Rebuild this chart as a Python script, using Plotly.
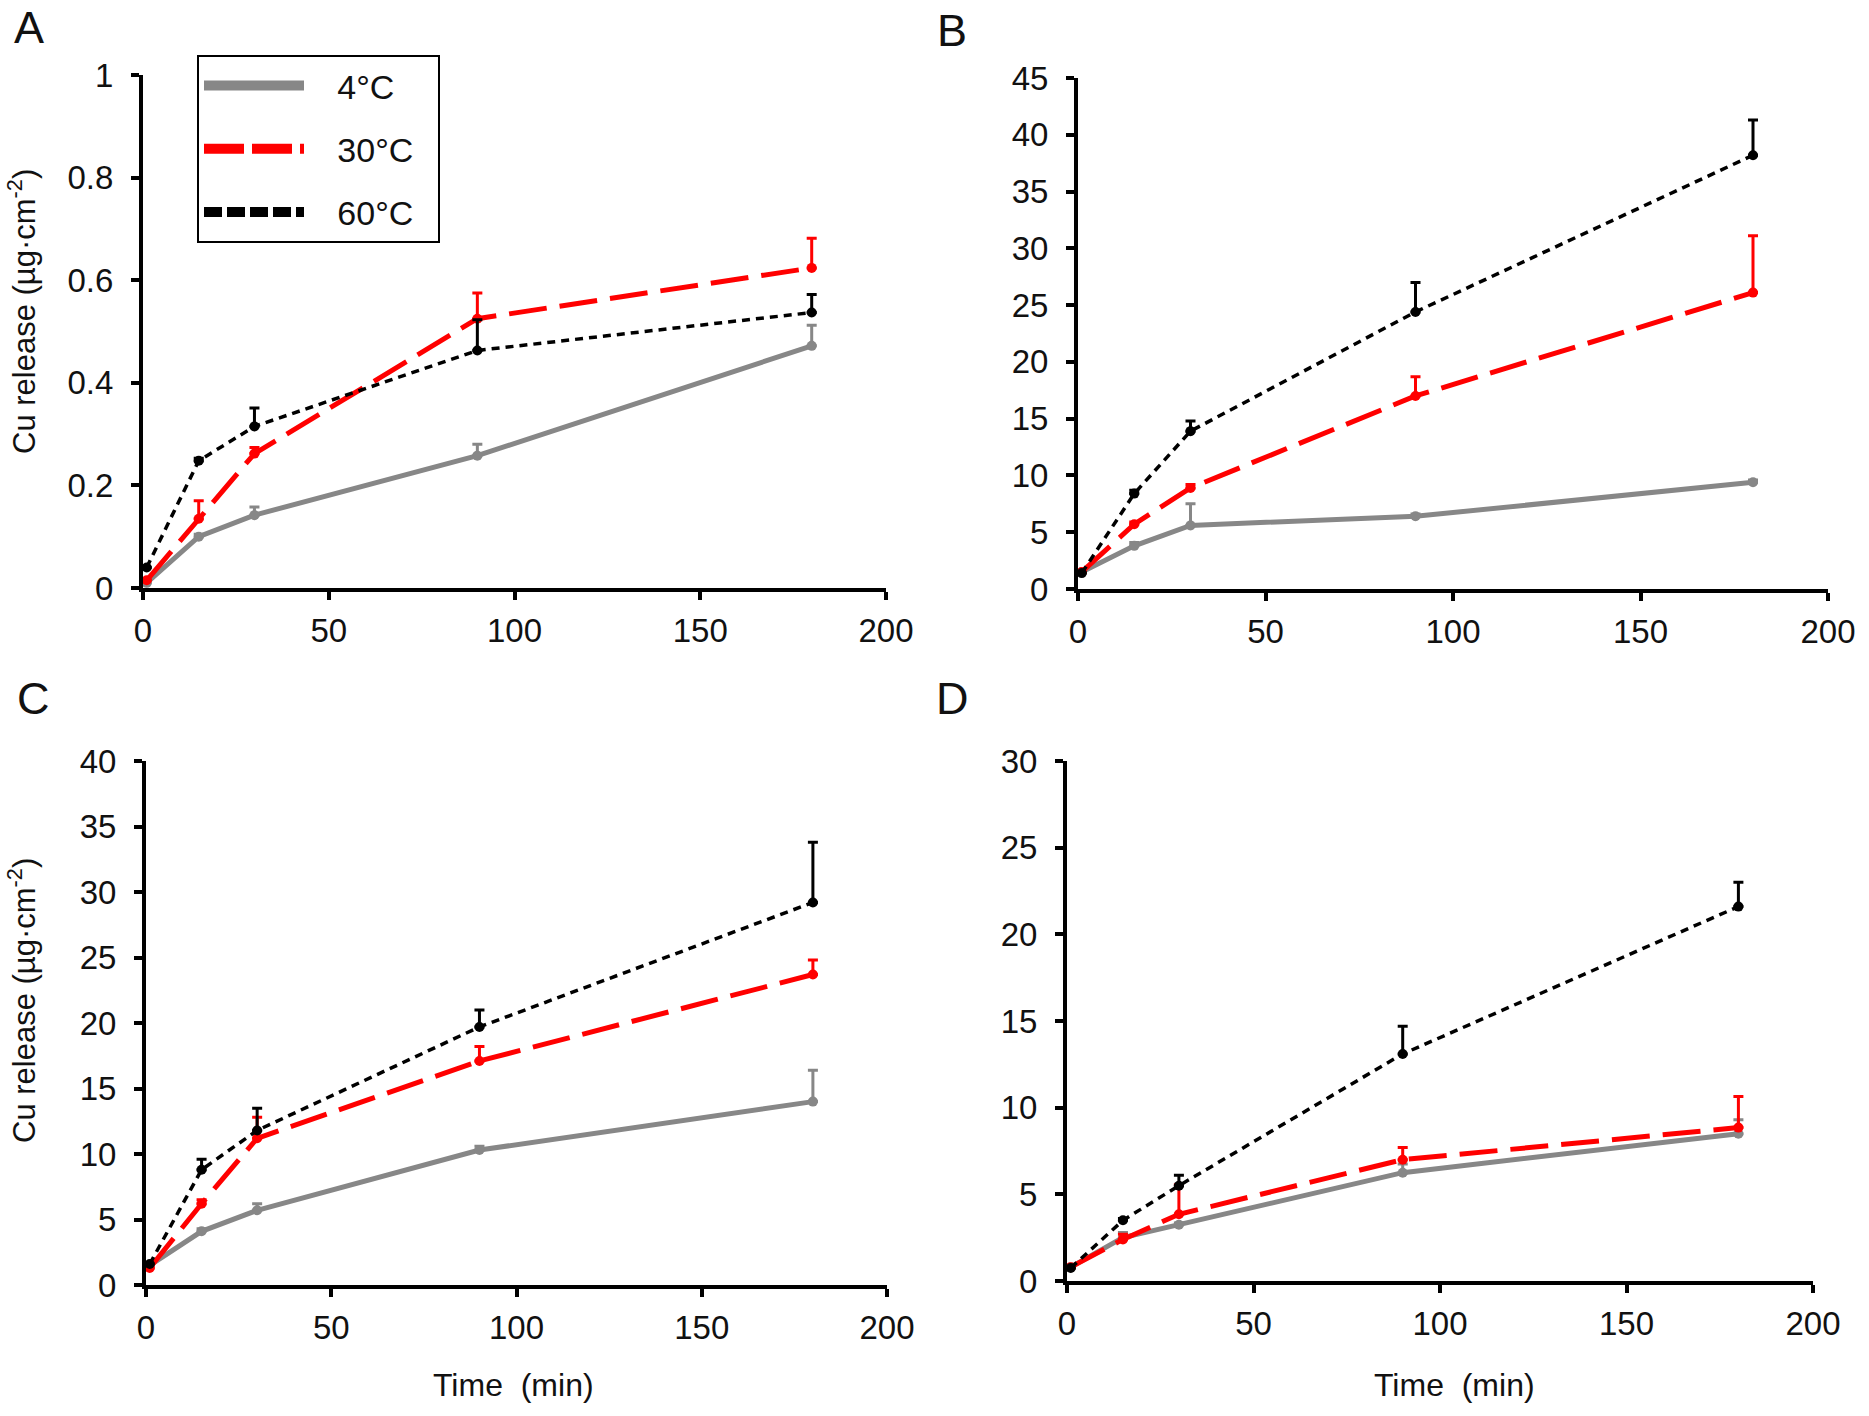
import plotly.graph_objects as go

W, H = 1869, 1416

time_min = [1, 15, 30, 90, 180]
series_names = ["4°C", "30°C", "60°C"]

# Panel A
A_4 = [0.01, 0.10, 0.142, 0.258, 0.472]
A_4_err = [0.0, 0.005, 0.016, 0.022, 0.04]
A_30 = [0.015, 0.135, 0.262, 0.525, 0.624]
A_30_err = [0.0, 0.035, 0.012, 0.05, 0.058]
A_60 = [0.04, 0.248, 0.315, 0.463, 0.537]
A_60_err = [0.0, 0.005, 0.036, 0.06, 0.035]

# Panel B
B_4 = [1.5, 3.8, 5.6, 6.4, 9.4]
B_4_err = [0.0, 0.3, 1.9, 0.2, 0.2]
B_30 = [1.5, 5.7, 8.9, 17.0, 26.1]
B_30_err = [0.0, 0.2, 0.3, 1.7, 5.0]
B_60 = [1.4, 8.4, 13.9, 24.4, 38.2]
B_60_err = [0.0, 0.3, 0.9, 2.6, 3.1]

# Panel C
C_4 = [1.5, 4.1, 5.7, 10.3, 14.0]
C_4_err = [0.0, 0.2, 0.5, 0.3, 2.4]
C_30 = [1.3, 6.2, 11.2, 17.1, 23.7]
C_30_err = [0.0, 0.3, 1.6, 1.1, 1.1]
C_60 = [1.6, 8.8, 11.8, 19.7, 29.2]
C_60_err = [0.0, 0.8, 1.7, 1.3, 4.6]

# Panel D
D_4 = [0.8, 2.5, 3.25, 6.25, 8.5]
D_4_err = [0.0, 0.3, 0.1, 0.5, 0.8]
D_30 = [0.8, 2.4, 3.85, 7.0, 8.85]
D_30_err = [0.0, 0.3, 1.7, 0.7, 1.8]
D_60 = [0.75, 3.5, 5.5, 13.1, 21.6]
D_60_err = [0.0, 0.1, 0.6, 1.6, 1.4]

y_ranges = [[0, 1], [0, 45], [0, 40], [0, 30]]
y_dticks = [0.2, 5, 5, 5]
x_range = [0, 200]
x_dtick = 50
panel_letters = ["A", "B", "C", "D"]
y_title = "Cu release (µg·cm<sup>-2</sup>)"
x_title = "Time  (min)"

colors = ["#878787", "#ff0000", "#000000"]
widths = [5, 5, 3.5]
dashes = ["solid", "38px,13px", "8px,6px"]
legend_dashes = ["solid", "40px,8px", "18px,5px"]
legend_widths = [14, 14, 10]

panels = [
    ([A_4, A_30, A_60], [A_4_err, A_30_err, A_60_err]),
    ([B_4, B_30, B_60], [B_4_err, B_30_err, B_60_err]),
    ([C_4, C_30, C_60], [C_4_err, C_30_err, C_60_err]),
    ([D_4, D_30, D_60], [D_4_err, D_30_err, D_60_err]),
]

# pixel boxes (left, right, top, bottom) of each plot area
boxes = [(143, 886, 75, 588), (1078, 1828, 78, 589),
         (146, 887, 761, 1285), (1067, 1813, 761, 1281)]


def px_x(p):
    return p / W


def px_y(p):
    return 1 - p / H


FONT = "Liberation Sans, Arial, sans-serif"
TXT = "#111111"
fig = go.Figure()

layout = dict(
    width=W, height=H, margin=dict(l=0, r=0, t=0, b=0, autoexpand=False),
    paper_bgcolor="white", plot_bgcolor="white",
    font=dict(family=FONT, color=TXT, size=33),
    showlegend=True,
)

for i, (vals, errs) in enumerate(panels):
    xa = "x" if i == 0 else f"x{i+1}"
    ya = "y" if i == 0 else f"y{i+1}"
    for s in range(3):
        fig.add_trace(go.Scatter(
            x=time_min, y=vals[s], xaxis=xa, yaxis=ya,
            mode="lines+markers", showlegend=False, cliponaxis=False,
            line=dict(color=colors[s], width=widths[s], dash=dashes[s]),
            marker=dict(color=colors[s], size=10),
            error_y=dict(type="data", symmetric=False, array=errs[s],
                         arrayminus=[0] * len(errs[s]),
                         color=colors[s], thickness=3, width=5),
        ))
    l, r, t, b = boxes[i]
    xkey = "xaxis" if i == 0 else f"xaxis{i+1}"
    ykey = "yaxis" if i == 0 else f"yaxis{i+1}"
    layout[xkey] = dict(
        domain=[px_x(l), px_x(r)], anchor=ya, range=x_range, dtick=x_dtick,
        showline=True, linewidth=4, linecolor="black", ticks="outside",
        ticklen=8, tickwidth=4, tickcolor="black", showgrid=False,
        zeroline=False, tickfont=dict(size=33, color=TXT), ticklabelstandoff=2,
        automargin=False,
    )
    layout[ykey] = dict(
        domain=[px_y(b), px_y(t)], anchor=xa, range=y_ranges[i],
        dtick=y_dticks[i], showline=True, linewidth=4, linecolor="black",
        ticks="outside", ticklen=8, tickwidth=4, tickcolor="black",
        showgrid=False, zeroline=False, tickfont=dict(size=33, color=TXT),
        ticklabelstandoff=11, automargin=False,
    )

# legend entries
for s in range(3):
    fig.add_trace(go.Scatter(
        x=[None], y=[None], mode="lines",
        name="\u00a0\u00a0\u00a0" + series_names[s] + "\u00a0\u00a0",
        legendgroup=series_names[s], showlegend=True,
        line=dict(color=colors[s], width=legend_widths[s], dash=legend_dashes[s]),
    ))

annotations = []
letter_pos = [(29, 28), (952, 31), (33, 698), (952, 698)]
for (px, py), letter in zip(letter_pos, panel_letters):
    annotations.append(dict(text=letter, x=px_x(px), y=px_y(py), xref="paper",
                            yref="paper", showarrow=False, xanchor="center",
                            yanchor="middle", font=dict(size=45, color=TXT)))
for py in (312, 1001):
    annotations.append(dict(text=y_title, x=px_x(22), y=px_y(py), xref="paper",
                            yref="paper", showarrow=False, textangle=-90,
                            xanchor="center", yanchor="middle",
                            font=dict(size=31, color=TXT)))
for px in (513, 1454):
    annotations.append(dict(text=x_title, x=px_x(px), y=px_y(1385), xref="paper",
                            yref="paper", showarrow=False, xanchor="center",
                            yanchor="middle", font=dict(size=32, color=TXT)))

layout["annotations"] = annotations
layout["legend"] = dict(
    x=px_x(197), y=px_y(55), xanchor="left", yanchor="top",
    bordercolor="black", borderwidth=2, bgcolor="white",
    font=dict(size=34, color=TXT), tracegroupgap=16,
    itemwidth=100,
)
fig.update_layout(**layout)
fig.write_html("out.html",
               config={"displayModeBar": False},
               post_script="document.body.style.margin='0px';"
                           "document.body.style.overflow='hidden';")
